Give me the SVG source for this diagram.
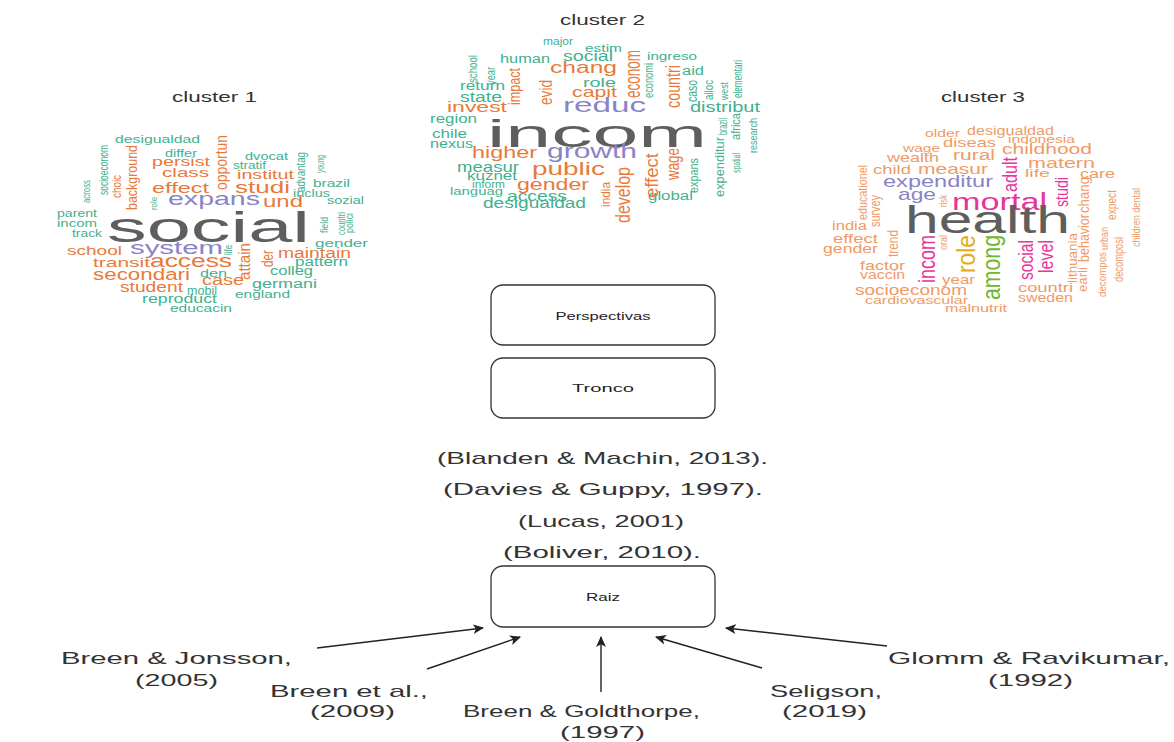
<svg xmlns="http://www.w3.org/2000/svg" width="1174" height="742" viewBox="0 0 1174 742">
<defs>
<style>
text{font-family:"Liberation Sans",Arial,sans-serif}
.t{fill:#42b08f}
.o{fill:#e8793a}
.p{fill:#8884c6}
.g{fill:#5e5e5e}
.o3{fill:#f09a66}
.pk{fill:#e7359a}
.gr{fill:#73b52c}
.y{fill:#dfae1e}
.title{font-size:14px;fill:#333}
.box{fill:#fff;stroke:#333;stroke-width:1.3}
.bl{font-size:11.5px;fill:#222;text-anchor:middle}
.cite{font-size:17px;fill:#333}
.lab{font-size:17px;fill:#333}
.conn{stroke:#222;stroke-width:1.4;fill:none;marker-end:url(#ah)}
</style>
<marker id="ah" viewBox="0 0 10 10" refX="9" refY="5" markerWidth="11" markerHeight="11" markerUnits="userSpaceOnUse" orient="auto">
<path d="M0,0.5 L10,5 L0,9.5 L2.5,5 Z" fill="#222"/>
</marker>
</defs>
<rect width="1174" height="742" fill="#fff"/>

<g id="cluster1">
<text class="title" x="172" y="102" textLength="85" lengthAdjust="spacingAndGlyphs">cluster 1</text>
<text class="t" x="115" y="143" font-size="11" textLength="85" lengthAdjust="spacingAndGlyphs">desigualdad</text>
<text class="t" x="165" y="157" font-size="10" textLength="32" lengthAdjust="spacingAndGlyphs">differ</text>
<text class="o" x="152" y="166" font-size="13" textLength="58" lengthAdjust="spacingAndGlyphs">persist</text>
<text class="o" x="162" y="177" font-size="13" textLength="47" lengthAdjust="spacingAndGlyphs">class</text>
<text class="o" x="152" y="193" font-size="15" textLength="57" lengthAdjust="spacingAndGlyphs">effect</text>
<text class="p" x="168" y="205" font-size="19" textLength="92" lengthAdjust="spacingAndGlyphs">expans</text>
<text class="o" x="263" y="207" font-size="16" textLength="40" lengthAdjust="spacingAndGlyphs">und</text>
<text class="o" x="235" y="193" font-size="17" textLength="55" lengthAdjust="spacingAndGlyphs">studi</text>
<text class="o" x="237" y="179" font-size="13" textLength="57" lengthAdjust="spacingAndGlyphs">institut</text>
<text class="t" x="233" y="169" font-size="11" textLength="33" lengthAdjust="spacingAndGlyphs">stratif</text>
<text class="t" x="245" y="160" font-size="11" textLength="43" lengthAdjust="spacingAndGlyphs">dvocat</text>
<text class="t" x="313" y="187" font-size="11" textLength="37" lengthAdjust="spacingAndGlyphs">brazil</text>
<text class="t" x="293" y="197" font-size="10" textLength="37" lengthAdjust="spacingAndGlyphs">inclus</text>
<text class="t" x="327" y="204" font-size="10" textLength="37" lengthAdjust="spacingAndGlyphs">sozial</text>
<text class="t" x="57" y="217" font-size="11" textLength="40" lengthAdjust="spacingAndGlyphs">parent</text>
<text class="t" x="57" y="227" font-size="11" textLength="40" lengthAdjust="spacingAndGlyphs">incom</text>
<text class="t" x="72" y="237" font-size="10" textLength="30" lengthAdjust="spacingAndGlyphs">track</text>
<text class="g" x="107" y="242" font-size="42" textLength="203" lengthAdjust="spacingAndGlyphs">social</text>
<text class="t" x="315" y="247" font-size="11" textLength="53" lengthAdjust="spacingAndGlyphs">gender</text>
<text class="o" x="67" y="255" font-size="13" textLength="55" lengthAdjust="spacingAndGlyphs">school</text>
<text class="p" x="130" y="254" font-size="18" textLength="93" lengthAdjust="spacingAndGlyphs">system</text>
<text class="o" x="278" y="258" font-size="14" textLength="73" lengthAdjust="spacingAndGlyphs">maintain</text>
<text class="o" x="93" y="267" font-size="13" textLength="57" lengthAdjust="spacingAndGlyphs">transit</text>
<text class="o" x="150" y="267" font-size="18" textLength="82" lengthAdjust="spacingAndGlyphs">access</text>
<text class="t" x="295" y="266" font-size="12" textLength="53" lengthAdjust="spacingAndGlyphs">pattern</text>
<text class="o" x="93" y="280" font-size="16" textLength="97" lengthAdjust="spacingAndGlyphs">secondari</text>
<text class="t" x="200" y="277" font-size="11" textLength="27" lengthAdjust="spacingAndGlyphs">den</text>
<text class="t" x="270" y="275" font-size="12" textLength="43" lengthAdjust="spacingAndGlyphs">colleg</text>
<text class="o" x="202" y="285" font-size="14" textLength="42" lengthAdjust="spacingAndGlyphs">case</text>
<text class="t" x="252" y="288" font-size="12" textLength="65" lengthAdjust="spacingAndGlyphs">germani</text>
<text class="o" x="120" y="292" font-size="14" textLength="63" lengthAdjust="spacingAndGlyphs">student</text>
<text class="t" x="187" y="295" font-size="12" textLength="30" lengthAdjust="spacingAndGlyphs">mobil</text>
<text class="t" x="142" y="303" font-size="12" textLength="75" lengthAdjust="spacingAndGlyphs">reproduct</text>
<text class="t" x="235" y="298" font-size="11" textLength="55" lengthAdjust="spacingAndGlyphs">england</text>
<text class="t" x="170" y="312" font-size="11" textLength="62" lengthAdjust="spacingAndGlyphs">educacin</text>
<text class="o" font-size="16" textLength="55" lengthAdjust="spacingAndGlyphs" transform="translate(227,190) rotate(-90)">opportun</text>
<text class="o" font-size="15" textLength="65" lengthAdjust="spacingAndGlyphs" transform="translate(137,210) rotate(-90)">background</text>
<text class="o" font-size="13" textLength="23" lengthAdjust="spacingAndGlyphs" transform="translate(121,198) rotate(-90)">choic</text>
<text class="t" font-size="12" textLength="50" lengthAdjust="spacingAndGlyphs" transform="translate(108,195) rotate(-90)">socioeconom</text>
<text class="t" font-size="11" textLength="23" lengthAdjust="spacingAndGlyphs" transform="translate(90,203) rotate(-90)">across</text>
<text class="t" font-size="9" textLength="13" lengthAdjust="spacingAndGlyphs" transform="translate(157,210) rotate(-90)">role</text>
<text class="t" font-size="12" textLength="40" lengthAdjust="spacingAndGlyphs" transform="translate(305,192) rotate(-90)">advantag</text>
<text class="t" font-size="11" textLength="18" lengthAdjust="spacingAndGlyphs" transform="translate(324,173) rotate(-90)">young</text>
<text class="t" font-size="10" textLength="16" lengthAdjust="spacingAndGlyphs" transform="translate(328,233) rotate(-90)">field</text>
<text class="t" font-size="11" textLength="23" lengthAdjust="spacingAndGlyphs" transform="translate(345,235) rotate(-90)">countri</text>
<text class="t" font-size="10" textLength="20" lengthAdjust="spacingAndGlyphs" transform="translate(353,233) rotate(-90)">polici</text>
<text class="o" font-size="16" textLength="37" lengthAdjust="spacingAndGlyphs" transform="translate(250,280) rotate(-90)">attain</text>
<text class="o" font-size="17" textLength="17" lengthAdjust="spacingAndGlyphs" transform="translate(273,267) rotate(-90)">der</text>
<text class="t" font-size="10" textLength="10" lengthAdjust="spacingAndGlyphs" transform="translate(232,255) rotate(-90)">life</text>
</g>

<g id="cluster2">
<text class="title" x="560" y="25" textLength="85" lengthAdjust="spacingAndGlyphs">cluster 2</text>
<text class="t" x="543" y="45" font-size="10" textLength="30" lengthAdjust="spacingAndGlyphs">major</text>
<text class="t" x="585" y="52" font-size="10" textLength="37" lengthAdjust="spacingAndGlyphs">estim</text>
<text class="t" x="500" y="63" font-size="12" textLength="50" lengthAdjust="spacingAndGlyphs">human</text>
<text class="t" x="563" y="61" font-size="14" textLength="50" lengthAdjust="spacingAndGlyphs">social</text>
<text class="t" x="647" y="60" font-size="11" textLength="50" lengthAdjust="spacingAndGlyphs">ingreso</text>
<text class="o" x="550" y="73" font-size="17" textLength="67" lengthAdjust="spacingAndGlyphs">chang</text>
<text class="t" x="682" y="75" font-size="12" textLength="22" lengthAdjust="spacingAndGlyphs">aid</text>
<text class="t" x="460" y="90" font-size="12" textLength="45" lengthAdjust="spacingAndGlyphs">return</text>
<text class="t" x="583" y="87" font-size="13" textLength="33" lengthAdjust="spacingAndGlyphs">role</text>
<text class="t" x="460" y="102" font-size="14" textLength="42" lengthAdjust="spacingAndGlyphs">state</text>
<text class="o" x="572" y="97" font-size="15" textLength="45" lengthAdjust="spacingAndGlyphs">capit</text>
<text class="o" x="447" y="112" font-size="15" textLength="60" lengthAdjust="spacingAndGlyphs">invest</text>
<text class="p" x="563" y="112" font-size="21" textLength="83" lengthAdjust="spacingAndGlyphs">reduc</text>
<text class="t" x="690" y="112" font-size="14" textLength="70" lengthAdjust="spacingAndGlyphs">distribut</text>
<text class="t" x="430" y="123" font-size="12" textLength="47" lengthAdjust="spacingAndGlyphs">region</text>
<text class="g" x="487" y="147" font-size="38" textLength="220" lengthAdjust="spacingAndGlyphs">incom</text>
<text class="t" x="432" y="138" font-size="12" textLength="35" lengthAdjust="spacingAndGlyphs">chile</text>
<text class="t" x="430" y="148" font-size="12" textLength="43" lengthAdjust="spacingAndGlyphs">nexus</text>
<text class="o" x="472" y="158" font-size="17" textLength="65" lengthAdjust="spacingAndGlyphs">higher</text>
<text class="p" x="547" y="158" font-size="21" textLength="90" lengthAdjust="spacingAndGlyphs">growth</text>
<text class="t" x="457" y="172" font-size="14" textLength="62" lengthAdjust="spacingAndGlyphs">measur</text>
<text class="o" x="532" y="175" font-size="19" textLength="73" lengthAdjust="spacingAndGlyphs">public</text>
<text class="t" x="467" y="180" font-size="12" textLength="50" lengthAdjust="spacingAndGlyphs">kuznet</text>
<text class="t" x="472" y="188" font-size="10" textLength="33" lengthAdjust="spacingAndGlyphs">inform</text>
<text class="t" x="450" y="195" font-size="10" textLength="53" lengthAdjust="spacingAndGlyphs">languag</text>
<text class="o" x="517" y="190" font-size="17" textLength="72" lengthAdjust="spacingAndGlyphs">gender</text>
<text class="t" x="507" y="201" font-size="14" textLength="60" lengthAdjust="spacingAndGlyphs">access</text>
<text class="t" x="483" y="208" font-size="14" textLength="103" lengthAdjust="spacingAndGlyphs">desigualdad</text>
<text class="t" x="648" y="200" font-size="12" textLength="45" lengthAdjust="spacingAndGlyphs">global</text>
<text class="t" font-size="12" textLength="28" lengthAdjust="spacingAndGlyphs" transform="translate(477,83) rotate(-90)">school</text>
<text class="t" font-size="12" textLength="18" lengthAdjust="spacingAndGlyphs" transform="translate(495,85) rotate(-90)">year</text>
<text class="o" font-size="17" textLength="37" lengthAdjust="spacingAndGlyphs" transform="translate(520,105) rotate(-90)">impact</text>
<text class="o" font-size="19" textLength="25" lengthAdjust="spacingAndGlyphs" transform="translate(552,105) rotate(-90)">evid</text>
<text class="o" font-size="22" textLength="48" lengthAdjust="spacingAndGlyphs" transform="translate(640,98) rotate(-90)">econom</text>
<text class="t" font-size="13" textLength="35" lengthAdjust="spacingAndGlyphs" transform="translate(653,98) rotate(-90)">economi</text>
<text class="o" font-size="20" textLength="43" lengthAdjust="spacingAndGlyphs" transform="translate(680,108) rotate(-90)">countri</text>
<text class="t" font-size="14" textLength="22" lengthAdjust="spacingAndGlyphs" transform="translate(697,102) rotate(-90)">caso</text>
<text class="t" font-size="13" textLength="20" lengthAdjust="spacingAndGlyphs" transform="translate(713,100) rotate(-90)">alloc</text>
<text class="t" font-size="11" textLength="18" lengthAdjust="spacingAndGlyphs" transform="translate(728,100) rotate(-90)">west</text>
<text class="t" font-size="12" textLength="38" lengthAdjust="spacingAndGlyphs" transform="translate(742,98) rotate(-90)">elementari</text>
<text class="t" font-size="13" textLength="17" lengthAdjust="spacingAndGlyphs" transform="translate(727,135) rotate(-90)">brazil</text>
<text class="t" font-size="13" textLength="60" lengthAdjust="spacingAndGlyphs" transform="translate(724,197) rotate(-90)">expenditur</text>
<text class="t" font-size="12" textLength="27" lengthAdjust="spacingAndGlyphs" transform="translate(740,140) rotate(-90)">africa</text>
<text class="t" font-size="11" textLength="20" lengthAdjust="spacingAndGlyphs" transform="translate(740,173) rotate(-90)">spatial</text>
<text class="t" font-size="10" textLength="35" lengthAdjust="spacingAndGlyphs" transform="translate(757,153) rotate(-90)">research</text>
<text class="t" font-size="13" textLength="35" lengthAdjust="spacingAndGlyphs" transform="translate(698,193) rotate(-90)">expans</text>
<text class="o" font-size="18" textLength="32" lengthAdjust="spacingAndGlyphs" transform="translate(679,180) rotate(-90)">wage</text>
<text class="o" font-size="18" textLength="45" lengthAdjust="spacingAndGlyphs" transform="translate(658,198) rotate(-90)">effect</text>
<text class="o" font-size="20" textLength="56" lengthAdjust="spacingAndGlyphs" transform="translate(630,223) rotate(-90)">develop</text>
<text class="o" font-size="13" textLength="25" lengthAdjust="spacingAndGlyphs" transform="translate(610,207) rotate(-90)">india</text>
</g>

<g id="cluster3">
<text class="title" x="941" y="102" textLength="84" lengthAdjust="spacingAndGlyphs">cluster 3</text>
<text class="o3" x="925" y="137" font-size="11" textLength="35" lengthAdjust="spacingAndGlyphs">older</text>
<text class="o3" x="967" y="135" font-size="12" textLength="87" lengthAdjust="spacingAndGlyphs">desigualdad</text>
<text class="o3" x="943" y="147" font-size="13" textLength="53" lengthAdjust="spacingAndGlyphs">diseas</text>
<text class="o3" x="1008" y="143" font-size="11" textLength="67" lengthAdjust="spacingAndGlyphs">indonesia</text>
<text class="o3" x="903" y="152" font-size="11" textLength="37" lengthAdjust="spacingAndGlyphs">wage</text>
<text class="o3" x="1002" y="154" font-size="15" textLength="90" lengthAdjust="spacingAndGlyphs">childhood</text>
<text class="o3" x="887" y="162" font-size="13" textLength="52" lengthAdjust="spacingAndGlyphs">wealth</text>
<text class="o3" x="953" y="160" font-size="14" textLength="42" lengthAdjust="spacingAndGlyphs">rural</text>
<text class="o3" x="1028" y="168" font-size="15" textLength="67" lengthAdjust="spacingAndGlyphs">matern</text>
<text class="o3" x="873" y="174" font-size="12" textLength="38" lengthAdjust="spacingAndGlyphs">child</text>
<text class="o3" x="918" y="174" font-size="15" textLength="70" lengthAdjust="spacingAndGlyphs">measur</text>
<text class="o3" x="1025" y="177" font-size="10" textLength="25" lengthAdjust="spacingAndGlyphs">life</text>
<text class="o3" x="1080" y="178" font-size="13" textLength="35" lengthAdjust="spacingAndGlyphs">care</text>
<text class="p" x="883" y="187" font-size="17" textLength="110" lengthAdjust="spacingAndGlyphs">expenditur</text>
<text class="p" x="898" y="200" font-size="17" textLength="38" lengthAdjust="spacingAndGlyphs">age</text>
<text class="pk" x="952" y="210" font-size="23" textLength="95" lengthAdjust="spacingAndGlyphs">mortal</text>
<text class="g" x="905" y="233" font-size="38" textLength="165" lengthAdjust="spacingAndGlyphs">health</text>
<text class="o3" x="832" y="230" font-size="12" textLength="35" lengthAdjust="spacingAndGlyphs">india</text>
<text class="o3" x="833" y="243" font-size="13" textLength="45" lengthAdjust="spacingAndGlyphs">effect</text>
<text class="o3" x="823" y="253" font-size="13" textLength="55" lengthAdjust="spacingAndGlyphs">gender</text>
<text class="o3" x="860" y="270" font-size="13" textLength="45" lengthAdjust="spacingAndGlyphs">factor</text>
<text class="o3" x="860" y="279" font-size="12" textLength="45" lengthAdjust="spacingAndGlyphs">vaccin</text>
<text class="o3" x="942" y="284" font-size="13" textLength="33" lengthAdjust="spacingAndGlyphs">year</text>
<text class="o3" x="855" y="295" font-size="14" textLength="112" lengthAdjust="spacingAndGlyphs">socioeconom</text>
<text class="o3" x="1018" y="292" font-size="13" textLength="55" lengthAdjust="spacingAndGlyphs">countri</text>
<text class="o3" x="865" y="304" font-size="11" textLength="103" lengthAdjust="spacingAndGlyphs">cardiovascular</text>
<text class="o3" x="1018" y="302" font-size="12" textLength="55" lengthAdjust="spacingAndGlyphs">sweden</text>
<text class="o3" x="945" y="312" font-size="11" textLength="62" lengthAdjust="spacingAndGlyphs">malnutrit</text>
<text class="o3" font-size="13" textLength="55" lengthAdjust="spacingAndGlyphs" transform="translate(867,220) rotate(-90)">educationel</text>
<text class="o3" font-size="14" textLength="32" lengthAdjust="spacingAndGlyphs" transform="translate(880,227) rotate(-90)">survey</text>
<text class="o3" font-size="10" textLength="12" lengthAdjust="spacingAndGlyphs" transform="translate(947,207) rotate(-90)">risk</text>
<text class="o3" font-size="15" textLength="27" lengthAdjust="spacingAndGlyphs" transform="translate(898,257) rotate(-90)">trend</text>
<text class="pk" font-size="24" textLength="48" lengthAdjust="spacingAndGlyphs" transform="translate(935,283) rotate(-90)">incom</text>
<text class="o3" font-size="10" textLength="15" lengthAdjust="spacingAndGlyphs" transform="translate(947,250) rotate(-90)">oral</text>
<text class="y" font-size="25" textLength="38" lengthAdjust="spacingAndGlyphs" transform="translate(975,273) rotate(-90)">role</text>
<text class="gr" font-size="26" textLength="65" lengthAdjust="spacingAndGlyphs" transform="translate(1000,300) rotate(-90)">among</text>
<text class="pk" font-size="21" textLength="35" lengthAdjust="spacingAndGlyphs" transform="translate(1017,192) rotate(-90)">adult</text>
<text class="pk" font-size="19" textLength="30" lengthAdjust="spacingAndGlyphs" transform="translate(1068,207) rotate(-90)">studi</text>
<text class="pk" font-size="20" textLength="40" lengthAdjust="spacingAndGlyphs" transform="translate(1033,280) rotate(-90)">social</text>
<text class="pk" font-size="20" textLength="33" lengthAdjust="spacingAndGlyphs" transform="translate(1053,273) rotate(-90)">level</text>
<text class="o3" font-size="13" textLength="50" lengthAdjust="spacingAndGlyphs" transform="translate(1077,283) rotate(-90)">lithuania</text>
<text class="o3" font-size="14" textLength="36" lengthAdjust="spacingAndGlyphs" transform="translate(1089,213) rotate(-90)">chang</text>
<text class="o3" font-size="14" textLength="48" lengthAdjust="spacingAndGlyphs" transform="translate(1089,262) rotate(-90)">behavior</text>
<text class="o3" font-size="12" textLength="25" lengthAdjust="spacingAndGlyphs" transform="translate(1087,292) rotate(-90)">earli</text>
<text class="o3" font-size="11" textLength="23" lengthAdjust="spacingAndGlyphs" transform="translate(1108,250) rotate(-90)">urban</text>
<text class="o3" font-size="11" textLength="45" lengthAdjust="spacingAndGlyphs" transform="translate(1106,297) rotate(-90)">decompos</text>
<text class="o3" font-size="12" textLength="30" lengthAdjust="spacingAndGlyphs" transform="translate(1116,220) rotate(-90)">expect</text>
<text class="o3" font-size="12" textLength="45" lengthAdjust="spacingAndGlyphs" transform="translate(1123,282) rotate(-90)">decomposi</text>
<text class="o3" font-size="11" textLength="59" lengthAdjust="spacingAndGlyphs" transform="translate(1140,247) rotate(-90)">children dental</text>
</g>

<g id="perspectivas">
<rect class="box" x="491" y="285" width="224" height="60" rx="12"/>
<text class="bl" x="603" y="320" textLength="95" lengthAdjust="spacingAndGlyphs">Perspectivas</text>
</g>
<g id="tronco">
<rect class="box" x="491" y="358" width="224" height="60" rx="12"/>
<text class="bl" x="603" y="392" textLength="62" lengthAdjust="spacingAndGlyphs">Tronco</text>
</g>
<g id="citations">
<text class="cite" x="437" y="464" textLength="331" lengthAdjust="spacingAndGlyphs">(Blanden &amp; Machin, 2013).</text>
<text class="cite" x="443" y="495" textLength="320" lengthAdjust="spacingAndGlyphs">(Davies &amp; Guppy, 1997).</text>
<text class="cite" x="518" y="527" textLength="166" lengthAdjust="spacingAndGlyphs">(Lucas, 2001)</text>
<text class="cite" x="503" y="558" textLength="198" lengthAdjust="spacingAndGlyphs">(Boliver, 2010).</text>
</g>
<g id="raiz">
<rect class="box" x="491" y="566" width="224" height="61" rx="12"/>
<text class="bl" x="603" y="601" textLength="34" lengthAdjust="spacingAndGlyphs">Raiz</text>
</g>
<g id="breen-jonsson">
<text class="lab" x="61" y="664" textLength="231" lengthAdjust="spacingAndGlyphs">Breen &amp; Jonsson,</text>
<text class="lab" x="135" y="686" textLength="83" lengthAdjust="spacingAndGlyphs">(2005)</text>
</g>
<g id="breen-etal">
<text class="lab" x="270" y="697" textLength="158" lengthAdjust="spacingAndGlyphs">Breen et al.,</text>
<text class="lab" x="310" y="717" textLength="85" lengthAdjust="spacingAndGlyphs">(2009)</text>
</g>
<g id="breen-goldthorpe">
<text class="lab" x="463" y="717" textLength="237" lengthAdjust="spacingAndGlyphs">Breen &amp; Goldthorpe,</text>
<text class="lab" x="560" y="738" textLength="85" lengthAdjust="spacingAndGlyphs">(1997)</text>
</g>
<g id="seligson">
<text class="lab" x="770" y="697" textLength="112" lengthAdjust="spacingAndGlyphs">Seligson,</text>
<text class="lab" x="782" y="717" textLength="85" lengthAdjust="spacingAndGlyphs">(2019)</text>
</g>
<g id="glomm-ravikumar">
<text class="lab" x="888" y="664" textLength="282" lengthAdjust="spacingAndGlyphs">Glomm &amp; Ravikumar,</text>
<text class="lab" x="988" y="686" textLength="85" lengthAdjust="spacingAndGlyphs">(1992)</text>
</g>

<g id="connectors">
<line class="conn" x1="317" y1="648" x2="483" y2="628"/>
<line class="conn" x1="427" y1="669" x2="520" y2="637"/>
<line class="conn" x1="601" y1="692" x2="601" y2="637"/>
<line class="conn" x1="762" y1="668" x2="656" y2="637"/>
<line class="conn" x1="887" y1="646" x2="726" y2="628"/>
</g>
</svg>
